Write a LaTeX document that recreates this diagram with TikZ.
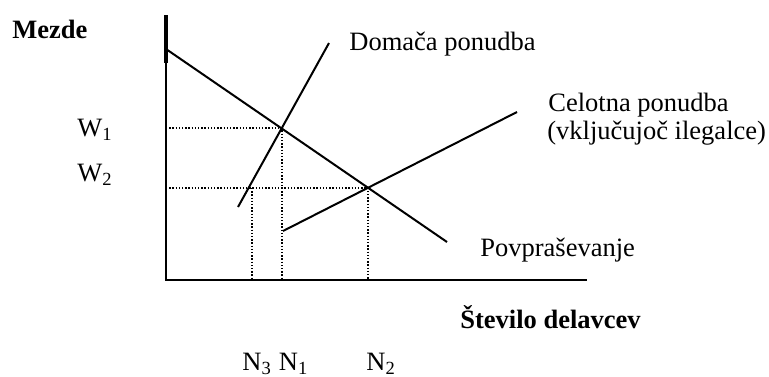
\documentclass[tikz,border=0pt]{standalone}
\usepackage{fontspec}
\setmainfont{Liberation Serif}
\begin{document}
\begin{tikzpicture}[x=0.5pt,y=-0.5pt,
 lbl/.style={inner sep=0pt, anchor=base west, font=\fontsize{13.25}{16}\selectfont},
 bl/.style={lbl, font=\fontsize{13.25}{16}\selectfont\bfseries},
 curve/.style={line width=1pt},
 guide/.style={line width=0.8pt, dash pattern=on 0.7pt off 0.9pt}]
\useasboundingbox (0,0) rectangle (769,376);
% axes
\coordinate (ytop) at (166,15);
\coordinate (ythick) at (166,63);
\coordinate (O) at (166,280);
\coordinate (xend) at (587,280);
\draw[line width=1pt] (ytop) -- (O) -- (xend);
\draw[line width=2pt] (ytop) -- (ythick);
% curves
\coordinate (d1) at (166,49);
\coordinate (d2) at (447,242);
\coordinate (s1) at (238,207);
\coordinate (s2) at (329,43);
\coordinate (t1) at (283,231);
\coordinate (t2) at (517,112);
\coordinate (e1) at (282,128);
\coordinate (e2) at (368,188);
\coordinate (e3) at (252,188);
\coordinate (w1) at (166,128);
\coordinate (w2) at (166,188);
\coordinate (n1) at (282,280);
\coordinate (n2) at (368,280);
\coordinate (n3) at (252,280);
\draw[guide] (w1) -- (e1) -- (n1);
\draw[guide] (w2) -- (e2) -- (n2);
\draw[guide] (e3) -- (n3);
\draw[curve] (d1) -- (d2);
\draw[curve] (s1) -- (s2);
\draw[curve] (t1) -- (t2);
% labels
\node[bl] (mezde) at (12,38) {Mezde};
\node[bl] (stevilo) at (460,328) {Število delavcev};
\node[lbl] (dom) at (349,50.5) {Domača ponudba};
\node[lbl] (cel1) at (548,111.5) {Celotna ponudba};
\node[lbl] (cel2) at (547,139) {(vključujoč ilegalce)};
\node[lbl] (povp) at (480,256) {Povpraševanje};
\node[lbl] (lw1) at (77,136.5) {W\textsubscript{1}};
\node[lbl] (lw2) at (77,181.5) {W\textsubscript{2}};
\node[lbl] (ln3) at (242,370) {N\textsubscript{3}};
\node[lbl] (ln1) at (278.5,370) {N\textsubscript{1}};
\node[lbl] (ln2) at (366,370) {N\textsubscript{2}};
\end{tikzpicture}
\end{document}
